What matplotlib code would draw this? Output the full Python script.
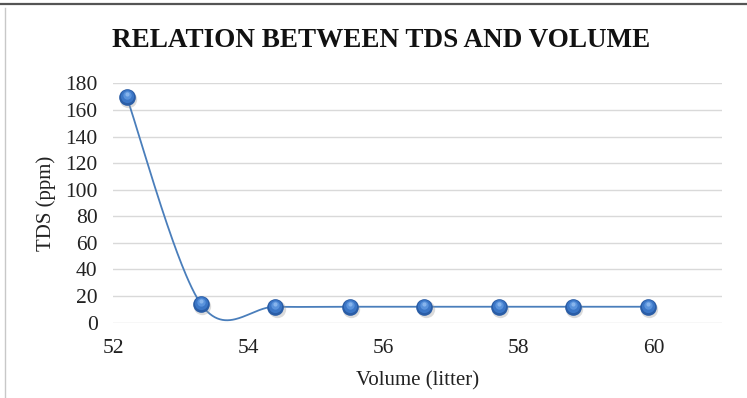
import numpy as np
import matplotlib
matplotlib.use("Agg")
import matplotlib.pyplot as plt
from matplotlib.lines import Line2D

volume = [52.2, 53.3, 54.4, 55.5, 56.6, 57.7, 58.8, 59.9]
tds = [170, 14, 12, 12, 12, 12, 12, 12]
x_ticks = [52, 54, 56, 58, 60]
y_ticks = [0, 20, 40, 60, 80, 100, 120, 140, 160, 180]
title = "RELATION BETWEEN TDS AND VOLUME"
xlabel = "Volume (litter)"
ylabel = "TDS (ppm)"

plt.rcParams['font.family'] = ['Liberation Serif', 'DejaVu Serif']


def excel_smooth(xs, ys, n=60):
    xs = np.asarray(xs, float)
    ys = np.asarray(ys, float)
    px, py = [], []
    m = len(xs)
    for i in range(m - 1):
        i0 = max(i - 1, 0)
        i3 = min(i + 2, m - 1)
        p0 = np.array([xs[i], ys[i]])
        p3 = np.array([xs[i + 1], ys[i + 1]])
        c1 = p0 + (np.array([xs[i + 1], ys[i + 1]]) - np.array([xs[i0], ys[i0]])) / 6
        c2 = p3 - (np.array([xs[i3], ys[i3]]) - np.array([xs[i], ys[i]])) / 6
        t = np.linspace(0, 1, n)[:, None]
        b = ((1 - t) ** 3) * p0 + 3 * ((1 - t) ** 2) * t * c1 + 3 * (1 - t) * t ** 2 * c2 + t ** 3 * p3
        px.extend(b[:, 0])
        py.extend(b[:, 1])
    return np.array(px), np.array(py)


fig = plt.figure(figsize=(7.47, 3.98), dpi=100)
ax = fig.add_axes([0.1513, 0.1892, 0.8152, 0.6015])

sx, sy = excel_smooth(volume, tds)
ax.plot(sx, sy, color='#4a7ebb', lw=1.3, zorder=3, clip_on=False)

vx = np.array(volume)
vy = np.array(tds, float)
# soft shadow
ax.plot(vx + 0.02, vy - 1.5, 'o', ms=12.5, color='#9a9a9a', alpha=0.35, mec='none', zorder=3.5, clip_on=False)
# sphere markers (layered shading)
ax.plot(vx, vy, 'o', ms=12, color='#2a5da6', mec='none', zorder=4, clip_on=False)
ax.plot(vx, vy + 0.5, 'o', ms=9.5, color='#3b76c6', mec='none', zorder=4.1, clip_on=False)
ax.plot(vx, vy + 1.3, 'o', ms=6, color='#5a93dc', mec='none', zorder=4.2, clip_on=False)
ax.plot(vx, vy + 2.2, 'o', ms=3, color='#8db8ee', mec='none', alpha=0.9, zorder=4.3, clip_on=False)

ax.set_xlim(52, 61)
ax.set_ylim(0, 180)
ax.set_xticks(x_ticks)
ax.set_yticks(y_ticks)
ax.tick_params(axis='both', length=0, labelsize=15.5, colors='#222222')
ax.tick_params(axis='x', pad=12)
ax.tick_params(axis='y', pad=11)
for s in ax.spines.values():
    s.set_visible(False)
ax.grid(True, axis='y', color='#d9d9d9', lw=1.0)
ax.set_axisbelow(True)

ax.set_xlabel(xlabel, fontsize=15, color='#222222', labelpad=9)
ax.set_ylabel(ylabel, fontsize=15, color='#222222', labelpad=7)

fig.text(0.51, 0.897, title, ha='center', va='center', fontsize=19.5, fontweight='bold', color='#111111')

# chart border lines
fig.add_artist(Line2D([0, 1], [1 - 4 / 398, 1 - 4 / 398], transform=fig.transFigure, color='#555555', lw=1.6))
fig.add_artist(Line2D([5.3 / 747, 5.3 / 747], [0, 1 - 8 / 398], transform=fig.transFigure, color='#c8c8c8', lw=1.0))

fig.savefig('out.png', dpi=100)
